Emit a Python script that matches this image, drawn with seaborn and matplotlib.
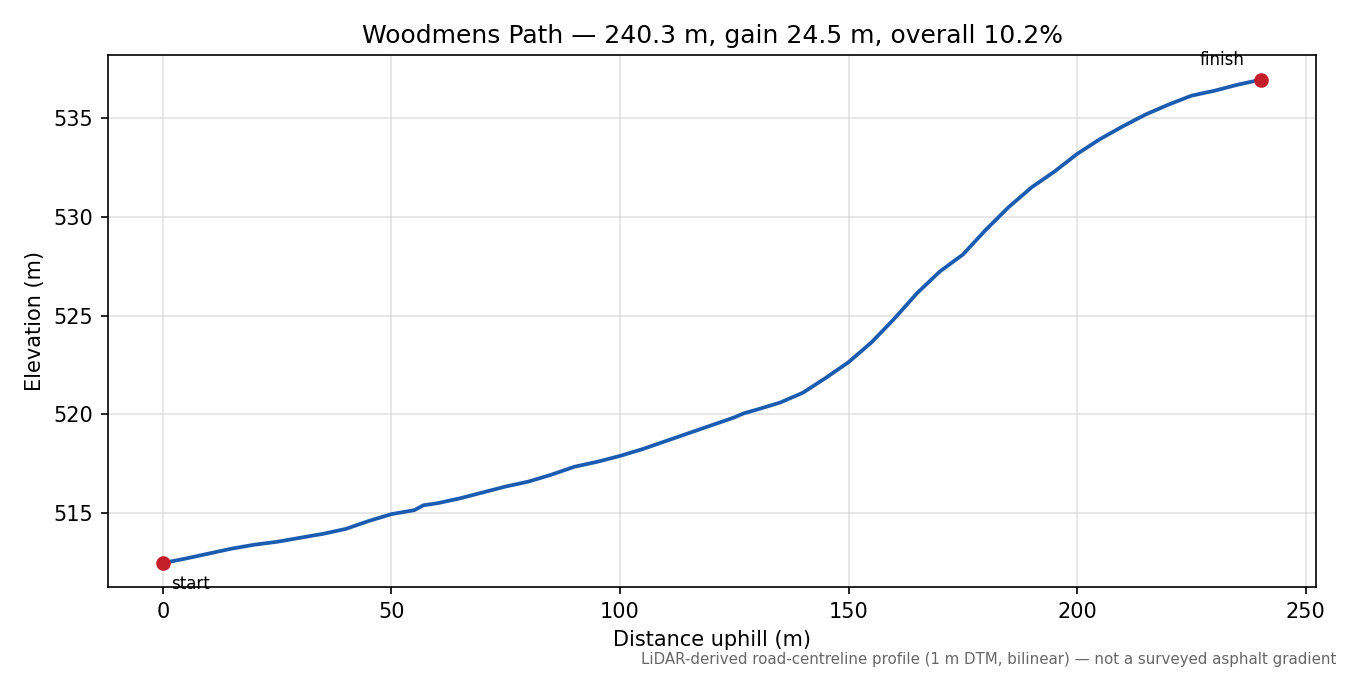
import numpy as np
import pandas as pd
import matplotlib
matplotlib.use("Agg")
import matplotlib.pyplot as plt
import seaborn as sns

# profile
dist = [0, 5, 10, 15, 20, 25, 30, 35, 40, 45, 50, 55, 57, 60, 65, 70, 75, 80,
        85, 90, 95, 100, 105, 110, 115, 120, 125, 127, 130, 135, 140, 145, 150,
        155, 160, 165, 170, 175, 180, 185, 190, 195, 200, 205, 210, 215, 220,
        225, 230, 235, 240.3]
elev = [512.47, 512.7, 512.95, 513.2, 513.4, 513.55, 513.75, 513.95, 514.2,
        514.6, 514.95, 515.15, 515.4, 515.5, 515.75, 516.05, 516.35, 516.6,
        516.95, 517.35, 517.6, 517.9, 518.25, 518.65, 519.05, 519.45, 519.85,
        520.05, 520.25, 520.6, 521.1, 521.85, 522.65, 523.65, 524.85, 526.15,
        527.25, 528.1, 529.35, 530.5, 531.5, 532.3, 533.2, 533.95, 534.6,
        535.2, 535.7, 536.15, 536.4, 536.7, 536.97]
end_labels = ["start", "finish"]

df = pd.DataFrame({"dist": dist, "elev": elev})

fig, ax = plt.subplots(figsize=(9, 4.5), dpi=150)
sns.lineplot(data=df, x="dist", y="elev", ax=ax, color="#1b5cb0", linewidth=1.8)
ends = df.iloc[[0, -1]]
ax.scatter(ends["dist"], ends["elev"], color="#c41e2a", s=36, zorder=5)

ax.annotate(end_labels[0], (dist[0], elev[0]), xytext=(4, -5.5),
            textcoords="offset points", ha="left", va="top", fontsize=8)
ax.annotate(end_labels[1], (dist[-1], elev[-1]), xytext=(-8, 5),
            textcoords="offset points", ha="right", va="bottom", fontsize=8)

ax.grid(True, color="#cccccc", alpha=0.55, linewidth=0.8)
ax.set_axisbelow(True)
ax.set_xlabel("Distance uphill (m)")
ax.set_ylabel("Elevation (m)")
ax.set_title("Woodmens Path \u2014 240.3 m, gain 24.5 m, overall 10.2%", fontsize=12)

fig.text(0.99, 0.012,
         "LiDAR-derived road-centreline profile (1 m DTM, bilinear) \u2014 not a surveyed asphalt gradient",
         ha="right", va="bottom", fontsize=7.2, color="#666666")

fig.subplots_adjust(left=0.08, right=0.975, top=0.918, bottom=0.13)
fig.savefig("out.png", dpi=150)
